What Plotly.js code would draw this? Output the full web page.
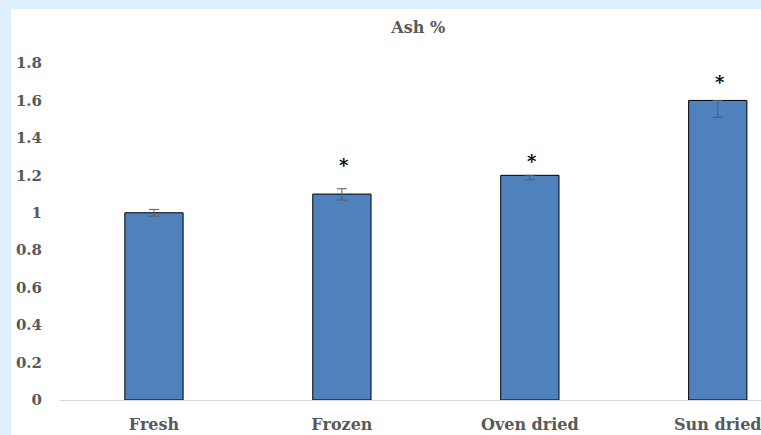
<!DOCTYPE html>
<html>
<head>
<meta charset="utf-8">
<script src="https://cdn.plot.ly/plotly-3.0.1.min.js"></script>
<style>
html, body { margin:0; padding:0; background:#dff1fc; overflow:hidden; }
#chart { position:absolute; left:11px; top:9px; width:750px; height:426px; background:#ffffff; }
</style>
</head>
<body>
<div id="chart"></div>
<script>
const categories = ["Fresh", "Frozen", "Oven dried", "Sun dried"];
const ashValues = [1.0, 1.10, 1.20, 1.60];
const errPlus = [0.018, 0.028, 0, 0];
const errMinus = [0.018, 0.032, 0.024, 0.09];
const starLabels = ["", "*", "*", "*"];
const starHeights = [null, 1.25, 1.275, 1.695];
const yTicks = [0, 0.2, 0.4, 0.6, 0.8, 1, 1.2, 1.4, 1.6, 1.8];
const yTickText = ["0", "0.2", "0.4", "0.6", "0.8", "1", "1.2", "1.4", "1.6", "1.8"];

const fontFam = "DejaVu Serif, serif";
const grey = "#595959";

const trace = {
  type: "bar",
  x: categories,
  y: ashValues,
  width: 0.31,
  marker: { color: "#4f81bd", line: { color: "#000000", width: 1 } },
  error_y: {
    type: "data", symmetric: false,
    array: errPlus, arrayminus: errMinus,
    color: "#595959", thickness: 1, width: 5, visible: true
  },
  hoverinfo: "none"
};

const annotations = [];
categories.forEach((c, i) => {
  if (starLabels[i]) {
    annotations.push({
      x: c, y: starHeights[i], xref: "x", yref: "y",
      text: "<b>" + starLabels[i] + "</b>", showarrow: false, xshift: 2,
      font: { family: fontFam, size: 18, color: "#000000" }
    });
  }
});

const layout = {
  width: 750, height: 426,
  margin: { l: 49, r: 0, t: 54, b: 35 },
  paper_bgcolor: "#ffffff",
  plot_bgcolor: "#ffffff",
  showlegend: false,
  title: {
    text: "<b>Ash %</b>",
    font: { family: fontFam, size: 16, color: grey },
    x: 0.511, xref: "paper", xanchor: "center",
    y: 1, yref: "container", yanchor: "top", pad: { t: 13 }
  },
  xaxis: {
    type: "category",
    range: [-0.5, 3.23],
    showgrid: false,
    showline: true, linecolor: "#d9d9d9", linewidth: 1,
    ticks: "outside", ticklen: 10, tickcolor: "rgba(0,0,0,0)",
    tickfont: { family: fontFam, size: 16, color: grey },
    tickprefix: "<b>", ticksuffix: "</b>",
    zeroline: false
  },
  yaxis: {
    range: [0, 1.8],
    tickvals: yTicks,
    ticktext: yTickText.map(t => "<b>" + t + "</b>"),
    showgrid: false, zeroline: false, showline: false,
    ticks: "outside", ticklen: 14, tickcolor: "rgba(0,0,0,0)",
    tickfont: { family: fontFam, size: 15, color: grey }
  },
  annotations: annotations
};

Plotly.newPlot("chart", [trace], layout, { displayModeBar: false, staticPlot: true });
</script>
</body>
</html>
